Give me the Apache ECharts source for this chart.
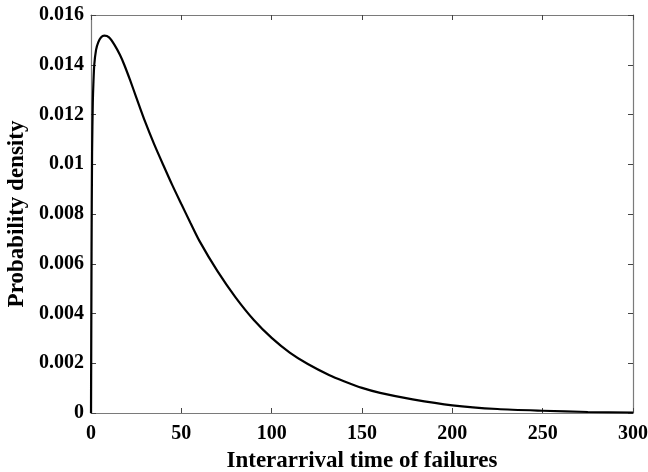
<!DOCTYPE html>
<html>
<head>
<meta charset="utf-8">
<script src="https://cdn.jsdelivr.net/npm/echarts@6/dist/echarts.min.js"></script>
<style>
  html, body { margin: 0; padding: 0; background: #fff; }
  #chart { width: 648px; height: 472px; }
</style>
</head>
<body>
<div id="chart"></div>
<script>
// values
const timeValues = [0, 0.3, 0.6, 1, 1.3, 1.8, 2.8, 4, 5.5, 7.4, 10, 13, 16, 18.4, 21.6, 25, 30, 35, 40, 45, 50, 55, 60, 70, 80, 90, 100, 110, 120, 132, 140, 150, 160, 178, 200, 225, 250, 275, 300]
const densityValues = [0, 0.0065, 0.0105, 0.0125, 0.0132, 0.01399, 0.0146, 0.0149, 0.0151, 0.01517, 0.0151, 0.0148, 0.0144, 0.014, 0.01339, 0.0127, 0.0117, 0.0108, 0.00997, 0.00916, 0.0084, 0.00765, 0.00692, 0.0057, 0.00465, 0.00375, 0.00302, 0.00243, 0.00197, 0.00152, 0.00128, 0.00101, 0.00081, 0.00055, 0.00031, 0.00016, 0.00009, 0.00004, 0.00002]
const xTicks = [0, 50, 100, 150, 200, 250, 300]
const yTickLabels = ['0', '0.002', '0.004', '0.006', '0.008', '0.01', '0.012', '0.014', '0.016']

const chart = echarts.init(document.getElementById('chart'))

const font = {
  fontFamily: 'Liberation Serif',
  fontWeight: 'bold',
  color: '#000'
}
const frameLine = { show: true, onZero: false, lineStyle: { color: '#7a7a7a', width: 1.2 } }
const innerTick = { show: true, inside: true, length: 5, lineStyle: { color: '#444', width: 1 } }

const option = {
  animation: false,
  backgroundColor: '#fff',
  grid: { left: 91, right: 15, top: 15, bottom: 59, containLabel: false, outerBoundsMode: 'none' },
  xAxis: [
    {
      type: 'value',
      min: xTicks[0],
      max: xTicks[xTicks.length - 1],
      interval: 50,
      name: 'Interarrival time of failures',
      nameLocation: 'middle',
      nameGap: 37,
      nameTextStyle: { ...font, fontSize: 23 },
      axisLine: frameLine,
      axisTick: innerTick,
      splitLine: { show: false },
      axisLabel: { ...font, fontSize: 20, margin: 11 }
    },
    {
      type: 'value',
      position: 'top',
      min: 0,
      max: 300,
      interval: 50,
      axisLine: frameLine,
      axisTick: innerTick,
      axisLabel: { show: false },
      splitLine: { show: false }
    }
  ],
  yAxis: [
    {
      type: 'value',
      min: 0,
      max: 0.016,
      interval: 0.002,
      name: 'Probability density',
      nameLocation: 'middle',
      nameGap: 61,
      nameTextStyle: { ...font, fontSize: 23 },
      axisLine: frameLine,
      axisTick: innerTick,
      splitLine: { show: false },
      axisLabel: {
        ...font,
        fontSize: 20,
        margin: 7,
        formatter: (v) => yTickLabels[Math.round(v / 0.002)]
      }
    },
    {
      type: 'value',
      position: 'right',
      min: 0,
      max: 0.016,
      interval: 0.002,
      axisLine: frameLine,
      axisTick: innerTick,
      axisLabel: { show: false },
      splitLine: { show: false }
    }
  ],
  series: [
    {
      type: 'line',
      data: timeValues.map((t, i) => [t, densityValues[i]]),
      symbol: 'none',
      smooth: 0.25,
      lineStyle: { color: '#000', width: 2.2 },
      clip: true
    }
  ]
}
chart.setOption(option)
</script>
</body>
</html>
